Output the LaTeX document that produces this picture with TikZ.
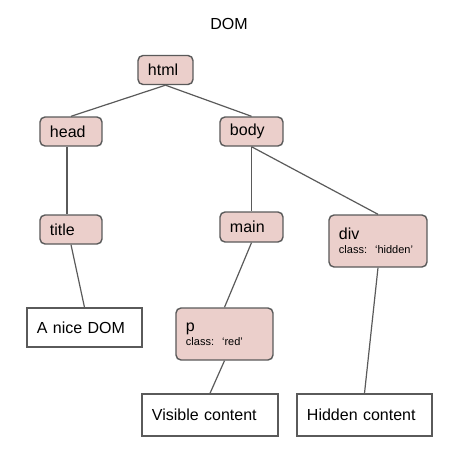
\documentclass[tikz,border=0pt]{standalone}
\usepackage{fontspec}
\setmainfont{Liberation Sans}
\usepackage{tikz}

\definecolor{tagpink}{HTML}{EBCFCB}
\definecolor{edgegray}{HTML}{5A5A5A}

\begin{document}
\begin{tikzpicture}
	[x=1pt, y=1pt, font=\fontsize{16}{19}\selectfont,
	 tag/.style = {draw=edgegray, fill=tagpink, line width=1.4pt, rounded corners=5pt, align=left, inner xsep=10pt, inner ysep=0pt, minimum height=29pt},
	 leaf/.style = {draw=edgegray, fill=white, line width=1.3pt, align=left, inner xsep=10pt, inner ysep=0pt, minimum height=40pt},
	 link/.style = {draw=edgegray, line width=1.2pt}]
	\useasboundingbox (-229,23.5) rectangle (222,-426.5);
	\node (dom) {DOM};
	\node[tag] (html) [below of = dom, xshift=-63.5pt, node distance=46.5pt, text width=35pt] {html};
	\node[tag] (head) [below of = html, xshift=-94.5pt, node distance=61.5pt, text width=42pt] {head};
	\node[tag] (body) [right of = head, node distance=180.5pt, text width=43pt] {body};
	\node[tag] (title) [below of = head, node distance=98pt, text width=42pt] {title};
	\node[tag] (main) [below of = body, node distance=95.5pt, minimum height=30pt, text width=43pt] {main};
	\node[tag] (div) [below of = body, xshift=126.5pt, node distance=109.5pt, minimum height=52pt, text width=78pt] {div\\[-5pt]{\fontsize{11}{13}\selectfont class: `hidden'}};
	\node[leaf] (nice) [below of = title, xshift=13.5pt, node distance=98pt, minimum height=39pt, text width=95pt] {A nice DOM};
	\node[tag] (p) [below of = main, xshift=-27pt, node distance=107pt, minimum height=52pt, text width=77pt] {p\\[-5pt]{\fontsize{11}{13}\selectfont class: `red'}};
	\node[leaf] (visible) [below of = p, xshift=-14.5pt, node distance=81pt, minimum height=42pt, text width=116pt] {Visible content};
	\node[leaf] (hidden) [right of = visible, node distance=154.5pt, minimum height=42pt, text width=115pt] {Hidden content};
	\draw[link] (html.south) -- (head.north);
	\draw[link] (html.south) -- (body.north);
	\draw[link] ([xshift=-4pt]head.south) -- ([xshift=-4pt]title.north);
	\draw[link] (body.south) -- (main.north);
	\draw[link] (body.south) -- (div.north);
	\draw[link] (title.south) -- (nice.north);
	\draw[link] (main.south) -- (p.north);
	\draw[link] (div.south) -- (hidden.north);
	\draw[link] (p.south) -- (visible.north);
\end{tikzpicture}
\end{document}
